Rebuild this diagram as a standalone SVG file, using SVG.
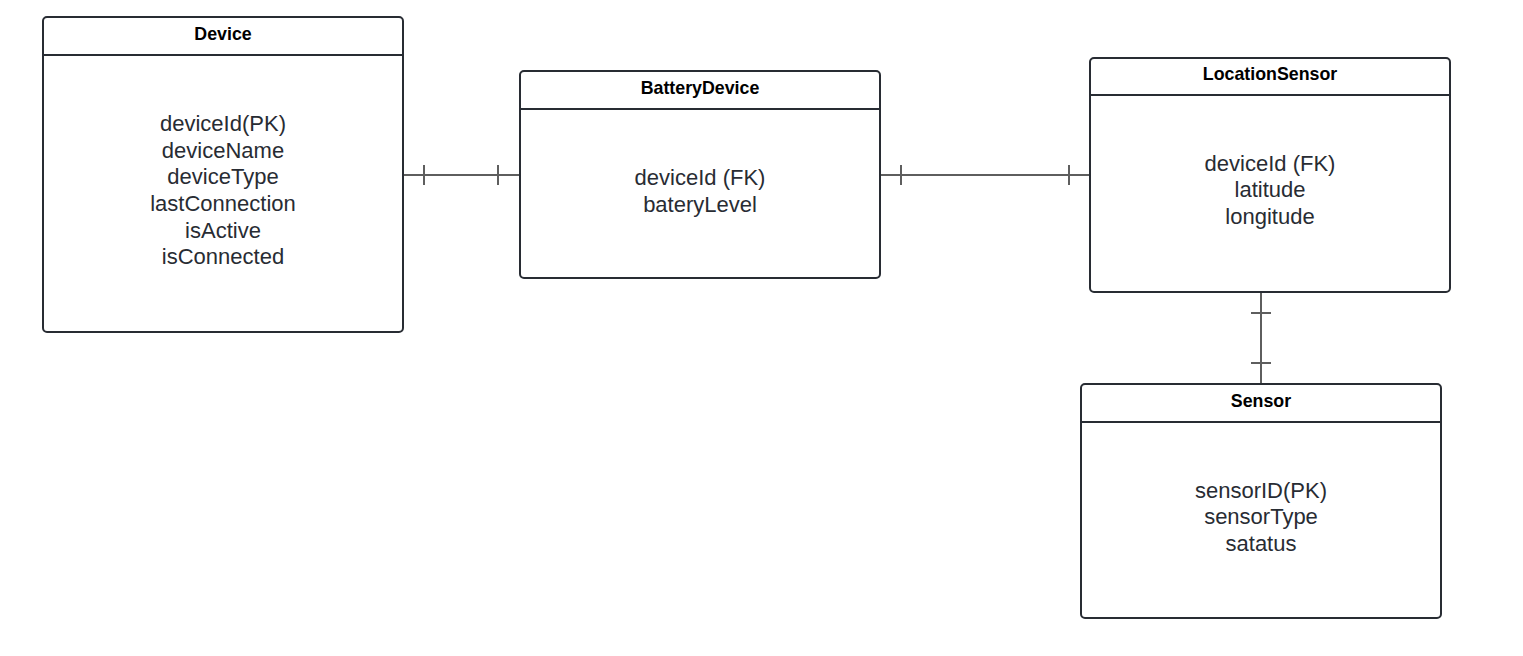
<svg xmlns="http://www.w3.org/2000/svg" width="1523" height="656" viewBox="0 0 1523 656">
<style>
.box{fill:#fff;stroke:#282c33;stroke-width:2}
.sep{stroke:#282c33;stroke-width:2}
.title{font-family:"Liberation Sans",Arial,sans-serif;font-size:17.8px;font-weight:bold;fill:#000;text-anchor:middle}
.attr{font-family:"Liberation Sans",Arial,sans-serif;font-size:22px;fill:#282c33;text-anchor:middle}
.conn{stroke:#5e5e5e;stroke-width:2;fill:none}
</style>
<rect width="1523" height="656" fill="#fff"/>
<g id="connectors">
<path class="conn" d="M403 175H520M424 165V185M498 165V185"/>
<path class="conn" d="M880 175H1090M901 165V185M1069 165V185"/>
<path class="conn" d="M1261 292V384M1251 313H1271M1251 363H1271"/>
</g>
<g id="device">
<rect class="box" x="43" y="17" width="360" height="315" rx="4"/>
<line class="sep" x1="43" y1="55" x2="403" y2="55"/>
<text class="title" x="223" y="40">Device</text>
<text class="attr" x="223" y="131">deviceId(PK)</text>
<text class="attr" x="223" y="158">deviceName</text>
<text class="attr" x="223" y="184">deviceType</text>
<text class="attr" x="223" y="211">lastConnection</text>
<text class="attr" x="223" y="238">isActive</text>
<text class="attr" x="223" y="264">isConnected</text>
</g>
<g id="batteryDevice">
<rect class="box" x="520" y="71" width="360" height="207" rx="4"/>
<line class="sep" x1="520" y1="109" x2="880" y2="109"/>
<text class="title" x="700" y="94">BatteryDevice</text>
<text class="attr" x="700" y="185">deviceId (FK)</text>
<text class="attr" x="700" y="212">bateryLevel</text>
</g>
<g id="locationSensor">
<rect class="box" x="1090" y="58" width="360" height="234" rx="4"/>
<line class="sep" x1="1090" y1="95" x2="1450" y2="95"/>
<text class="title" x="1270" y="80">LocationSensor</text>
<text class="attr" x="1270" y="171">deviceId (FK)</text>
<text class="attr" x="1270" y="197">latitude</text>
<text class="attr" x="1270" y="224">longitude</text>
</g>
<g id="sensor">
<rect class="box" x="1081" y="384" width="360" height="234" rx="4"/>
<line class="sep" x1="1081" y1="422" x2="1441" y2="422"/>
<text class="title" x="1261" y="407">Sensor</text>
<text class="attr" x="1261" y="498">sensorID(PK)</text>
<text class="attr" x="1261" y="524">sensorType</text>
<text class="attr" x="1261" y="551">satatus</text>
</g>
</svg>
